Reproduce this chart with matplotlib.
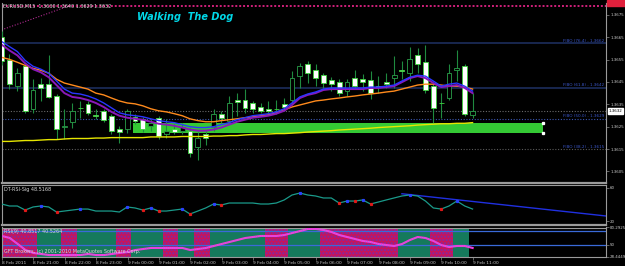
import numpy as np
import matplotlib.pyplot as plt
from matplotlib.patches import Rectangle
from matplotlib.transforms import blended_transform_factory

#   DATA (EURUSD M15, 8 Feb 20:00 -> 9 Feb 11:00)
bar_open = [1.36653, 1.36546, 1.36431, 1.36520, 1.36330, 1.36440, 1.36440, 1.36387, 1.36250, 1.36272,
            1.36334, 1.36352, 1.36303, 1.36321, 1.36299, 1.36241, 1.36241, 1.36294, 1.36285, 1.36254,
            1.36290, 1.36219, 1.36241, 1.36232, 1.36232, 1.36157, 1.36219, 1.36250, 1.36308, 1.36277,
            1.36369, 1.36369, 1.36356, 1.36338, 1.36330, 1.36330, 1.36352, 1.36369, 1.36476, 1.36529,
            1.36502, 1.36480, 1.36458, 1.36449, 1.36409, 1.36467, 1.36462, 1.36458, 1.36431, 1.36449,
            1.36467, 1.36502, 1.36489, 1.36569, 1.36538, 1.36431, 1.36356, 1.36378, 1.36502, 1.36520,
            1.36300]
bar_high = [1.36679, 1.36577, 1.36511, 1.36529, 1.36462, 1.36467, 1.36569, 1.36396, 1.36330, 1.36356,
            1.36365, 1.36365, 1.36330, 1.36330, 1.36308, 1.36254, 1.36330, 1.36308, 1.36294, 1.36285,
            1.36299, 1.36285, 1.36263, 1.36268, 1.36246, 1.36228, 1.36232, 1.36330, 1.36321, 1.36387,
            1.36400, 1.36418, 1.36365, 1.36356, 1.36365, 1.36369, 1.36378, 1.36498, 1.36533, 1.36542,
            1.36529, 1.36489, 1.36471, 1.36462, 1.36462, 1.36502, 1.36485, 1.36498, 1.36476, 1.36489,
            1.36564, 1.36542, 1.36608, 1.36600, 1.36617, 1.36445, 1.36400, 1.36529, 1.36591, 1.36529,
            1.36400]
bar_low = [1.36524, 1.36418, 1.36409, 1.36312, 1.36312, 1.36365, 1.36378, 1.36197, 1.36197, 1.36246,
           1.36290, 1.36303, 1.36285, 1.36272, 1.36219, 1.36179, 1.36223, 1.36263, 1.36228, 1.36232,
           1.36197, 1.36201, 1.36215, 1.36219, 1.36113, 1.36100, 1.36166, 1.36232, 1.36268, 1.36268,
           1.36299, 1.36312, 1.36312, 1.36312, 1.36308, 1.36308, 1.36321, 1.36352, 1.36423, 1.36445,
           1.36431, 1.36423, 1.36409, 1.36387, 1.36387, 1.36418, 1.36409, 1.36374, 1.36400, 1.36423,
           1.36423, 1.36462, 1.36454, 1.36489, 1.36400, 1.36268, 1.36290, 1.36369, 1.36454, 1.36299,
           1.36290]
bar_close = [1.36542, 1.36440, 1.36489, 1.36321, 1.36414, 1.36423, 1.36383, 1.36241, 1.36254, 1.36321,
             1.36332, 1.36312, 1.36299, 1.36281, 1.36232, 1.36228, 1.36321, 1.36277, 1.36241, 1.36268,
             1.36210, 1.36232, 1.36228, 1.36250, 1.36130, 1.36201, 1.36201, 1.36308, 1.36290, 1.36356,
             1.36361, 1.36334, 1.36330, 1.36321, 1.36321, 1.36328, 1.36338, 1.36467, 1.36520, 1.36489,
             1.36467, 1.36445, 1.36440, 1.36400, 1.36449, 1.36431, 1.36449, 1.36400, 1.36429, 1.36440,
             1.36480, 1.36500, 1.36551, 1.36529, 1.36414, 1.36334, 1.36354, 1.36489, 1.36511, 1.36308,
             1.36320]

#   MOVING AVERAGES
ma_orange = [1.36560, 1.36551, 1.36538, 1.36524, 1.36511, 1.36502, 1.36489, 1.36462, 1.36445, 1.36436,
             1.36427, 1.36418, 1.36400, 1.36392, 1.36378, 1.36365, 1.36356, 1.36352, 1.36343, 1.36330,
             1.36321, 1.36316, 1.36308, 1.36299, 1.36285, 1.36277, 1.36272, 1.36272, 1.36277, 1.36281,
             1.36285, 1.36290, 1.36294, 1.36299, 1.36303, 1.36312, 1.36325, 1.36338, 1.36347, 1.36356,
             1.36365, 1.36369, 1.36374, 1.36378, 1.36383, 1.36387, 1.36392, 1.36396, 1.36400, 1.36405,
             1.36409, 1.36418, 1.36427, 1.36436, 1.36440, 1.36440, 1.36436, 1.36431, 1.36431, 1.36427,
             1.36418]
ma_blue = [1.36631, 1.36608, 1.36586, 1.36546, 1.36520, 1.36507, 1.36489, 1.36454, 1.36418, 1.36400,
           1.36396, 1.36387, 1.36374, 1.36356, 1.36334, 1.36312, 1.36303, 1.36299, 1.36294, 1.36285,
           1.36277, 1.36272, 1.36268, 1.36259, 1.36250, 1.36246, 1.36246, 1.36250, 1.36259, 1.36268,
           1.36281, 1.36290, 1.36299, 1.36303, 1.36308, 1.36316, 1.36330, 1.36356, 1.36383, 1.36396,
           1.36405, 1.36418, 1.36423, 1.36423, 1.36423, 1.36423, 1.36423, 1.36427, 1.36427, 1.36431,
           1.36436, 1.36454, 1.36471, 1.36480, 1.36476, 1.36454, 1.36431, 1.36440, 1.36445, 1.36431,
           1.36409]
ma_purple = [1.36617, 1.36591, 1.36569, 1.36533, 1.36507, 1.36493, 1.36471, 1.36436, 1.36400, 1.36383,
             1.36378, 1.36369, 1.36356, 1.36338, 1.36316, 1.36299, 1.36290, 1.36285, 1.36281, 1.36272,
             1.36263, 1.36259, 1.36254, 1.36246, 1.36237, 1.36232, 1.36232, 1.36237, 1.36246, 1.36259,
             1.36272, 1.36281, 1.36290, 1.36294, 1.36299, 1.36308, 1.36321, 1.36347, 1.36378, 1.36392,
             1.36400, 1.36414, 1.36418, 1.36418, 1.36418, 1.36418, 1.36418, 1.36423, 1.36423, 1.36427,
             1.36431, 1.36449, 1.36467, 1.36476, 1.36467, 1.36445, 1.36427, 1.36431, 1.36436, 1.36423,
             1.36400]
ma_yellow = [1.36184, 1.36184, 1.36186, 1.36188, 1.36188, 1.36190, 1.36192, 1.36192, 1.36195, 1.36197,
             1.36197, 1.36197, 1.36199, 1.36199, 1.36201, 1.36201, 1.36201, 1.36201, 1.36201, 1.36204,
             1.36204, 1.36204, 1.36204, 1.36206, 1.36206, 1.36206, 1.36206, 1.36208, 1.36208, 1.36210,
             1.36210, 1.36213, 1.36215, 1.36215, 1.36217, 1.36219, 1.36219, 1.36221, 1.36223, 1.36226,
             1.36228, 1.36230, 1.36232, 1.36235, 1.36237, 1.36239, 1.36241, 1.36243, 1.36246, 1.36248,
             1.36250, 1.36252, 1.36254, 1.36257, 1.36259, 1.36261, 1.36263, 1.36263, 1.36265, 1.36265,
             1.36268]

#   OBJECTS
fibo_levels = ['76.4', '61.8', '50.0', '38.2']
fibo_prices = [1.36622, 1.36423, 1.36285, 1.36149]
fibo_texts = ['1.3662', '1.3642', '1.3629', '1.3615']
zone_t = [16.7, 69.0]
zone_p = [1.36223, 1.36268]
pink_t = [0, 9]
pink_p = [1.36683, 1.36795]
top_line = 1.36790
price_ticks = [1.3605, 1.3615, 1.3625, 1.3635, 1.3645, 1.3655, 1.3665, 1.3675]

#   DT-RSI
dt_rsi = [40.6, 38.2, 38.2, 33.3, 37.0, 38.2, 37.0, 30.9, 32.1, 33.3,
          34.5, 34.5, 32.1, 32.1, 32.1, 30.9, 37.0, 35.8, 33.3, 35.8,
          32.1, 32.1, 33.3, 34.5, 28.5, 32.1, 35.8, 40.6, 39.4, 41.8,
          41.8, 41.8, 41.8, 40.6, 40.6, 41.8, 45.5, 51.5, 53.9, 51.5,
          50.3, 47.9, 47.9, 41.8, 44.2, 44.2, 45.5, 40.6, 43.0, 45.5,
          47.9, 50.3, 51.5, 50.3, 44.2, 35.8, 34.5, 38.2, 44.2, 38.2, 34.5]
dt_red = [3, 7, 18, 20, 24, 28, 43, 45, 47, 56]
dt_blue = [5, 10, 16, 19, 23, 27, 38, 44, 46, 52, 58]
dt_trend_t = [51, 77]
dt_trend_v = [53.0, 26.1]

#   RSI
rsi = [65.4, 61.8, 51.3, 40.7, 35.5, 33.7, 31.9, 31.9, 31.9, 31.9,
       31.9, 33.7, 31.9, 31.9, 33.7, 35.5, 37.2, 40.7, 42.5, 44.3,
       44.3, 44.3, 44.3, 44.3, 40.7, 42.5, 44.3, 47.8, 51.3, 54.8,
       58.3, 61.8, 63.6, 65.4, 65.4, 65.4, 67.1, 70.6, 74.1, 77.7,
       77.7, 75.9, 72.4, 67.1, 63.6, 60.1, 56.6, 54.8, 51.3, 49.5,
       47.8, 51.3, 58.3, 63.6, 61.8, 56.6, 49.5, 46.0, 47.8, 47.8, 44.3]
rsi_state = [1, 1, 1, 1, 1, 0, 0, 0, 1, 1,
             0, 0, 0, 0, 0, 1, 1, 0, 0, 0,
             0, 1, 1, 0, 0, 1, 1, 0, 0, 0,
             0, 0, 0, 0, 1, 1, 1, 0, 0, 0,
             0, 1, 1, 1, 1, 1, 1, 1, 1, 1,
             1, 0, 0, 0, 0, 1, 1, 1, 0, 0, -1]
rsi_levels = [75, 50]

time_idx = list(range(0, 61, 4))
time_labels = ['8 Feb 2011', '8 Feb 21:00', '8 Feb 22:00', '8 Feb 23:00', '9 Feb 00:00',
               '9 Feb 01:00', '9 Feb 02:00', '9 Feb 03:00', '9 Feb 04:00', '9 Feb 05:00',
               '9 Feb 06:00', '9 Feb 07:00', '9 Feb 08:00', '9 Feb 09:00', '9 Feb 10:00',
               '9 Feb 11:00']

#   LAYOUT
W, H = 625, 266


def px(x0, y0, x1, y1):
    return [x0 / W, 1 - y1 / H, (x1 - x0) / W, (y1 - y0) / H]


fig = plt.figure(figsize=(W / 100, H / 100), dpi=100, facecolor='black')
ax = fig.add_axes(px(2, 3, 606, 183))
ax2 = fig.add_axes(px(2, 185, 606, 225))
ax3 = fig.add_axes(px(2, 227.5, 606, 257))

idx = np.arange(len(bar_open))
o = np.array(bar_open)
c = np.array(bar_close)

for a in (ax, ax2, ax3):
    a.set_facecolor('black')
    a.set_xlim(0.05, 77.0)
    for s in a.spines.values():
        s.set_color('#9a9a9a')
        s.set_linewidth(0.8)
    a.yaxis.tick_right()
    a.tick_params(axis='y', colors='#8a8a8a', labelcolor='#c8c8c8', labelsize=2.9,
                  length=2, width=0.5, pad=1)
    a.tick_params(axis='x', colors='#8a8a8a', labelcolor='#c8c8c8', labelsize=3.2,
                  length=2, width=0.5, pad=1)
    a.set_xticks([])
ax.spines['bottom'].set_linewidth(1.6)
ax2.spines['bottom'].set_linewidth(1.6)
ax.spines['top'].set_visible(False)

#   MAIN CHART
ax.set_ylim(1.35998, 1.36803)
ax.set_yticks(price_ticks)
ax.set_yticklabels([f'{p:.4f}' for p in price_ticks])

ax.axhline(top_line, color='#d0207a', lw=1.4, ls=(0, (1, 1)), zorder=1)
ax.plot(pink_t, pink_p, color='#b02a90', lw=0.8, ls=(0, (1, 1.5)), zorder=1)

fibo_style = [('#1c2d5c', '-', 1.2), ('#1c2d5c', '-', 1.2), ('#3a55b0', (0, (1, 1.5)), 0.8),
              ('#5a5a5a', (0, (1, 1.5)), 0.8)]
tr = blended_transform_factory(ax.transAxes, ax.transData)
for p, lv, tx, (col, ls, lw) in zip(fibo_prices, fibo_levels, fibo_texts, fibo_style):
    ax.axhline(p, color=col, ls=ls, lw=lw, zorder=1)
    ax.text(0.997, p + 0.00003, f'FIBO ({lv}) - {tx}', transform=tr, ha='right', va='bottom',
            fontsize=3.0, color='#3a56c8', zorder=6)
ax.axhline(bar_close[-1], color='#6a6a6a', ls=(0, (1, 1.5)), lw=0.8, zorder=1)

ax.fill_between(zone_t, zone_p[0], zone_p[1], color='#34c934', lw=0, zorder=2)
ax.plot([zone_t[1], zone_t[1]], zone_p, 's', color='white', ms=1.4, zorder=2)

# velas: branca = baixa, preta = alta
ax.vlines(idx, bar_low, bar_high, color='#1f8a3f', lw=0.8, zorder=3)
bull = c >= o
body = np.maximum(np.abs(c - o), 0.000006)
ax.bar(idx[~bull], body[~bull], bottom=np.minimum(o, c)[~bull], width=0.62,
       color='white', edgecolor='#3cd23c', lw=0.6, zorder=4)
ax.bar(idx[bull], body[bull], bottom=np.minimum(o, c)[bull], width=0.62,
       color='black', edgecolor='#2aa04a', lw=0.6, zorder=4)

ax.plot(idx, ma_yellow, color='#e6e600', lw=1.0, zorder=5)
ax.plot(idx, ma_orange, color='#ff8a1c', lw=1.0, zorder=5)
ax.plot(idx, ma_purple, color='#8a18b8', lw=1.4, zorder=5)
ax.plot(idx, ma_blue, color='#2a36ff', lw=1.0, zorder=6)

ax.text(1.004, bar_close[-1], f'{bar_close[-1]:.4f}', transform=tr, ha='left', va='center',
        fontsize=2.9, color='black', clip_on=False, zorder=7,
        bbox=dict(boxstyle='square,pad=0.15', fc='white', ec='white'))
fig.patches.append(Rectangle((607 / W, 1 - 6 / H), 18 / W, 6 / H, color='#e0203c',
                             transform=fig.transFigure, zorder=7))

fig.text(3 / W, 1 - 6 / H, 'EURUSD,M15  1.3630 1.3640 1.3629 1.3632', fontsize=3.5,
         color='#d8d8d8', ha='left', va='center')
fig.text(137 / W, 1 - 17 / H, 'Walking  The Dog', fontsize=7, color='#00d8e8',
         fontweight='bold', fontstyle='italic', ha='left', va='center')

#   DT-RSI
ax2.set_ylim(15.2, 63.6)
ax2.set_yticks([20, 60])
ax2.set_yticklabels(['20', '60'])
ax2.plot(idx, dt_rsi, color='#1a9a8a', lw=0.9, zorder=3)
ax2.plot(dt_red, [dt_rsi[i] for i in dt_red], 's', color='#e01818', ms=1.3, zorder=4)
ax2.plot(dt_blue, [dt_rsi[i] for i in dt_blue], 's', color='#2a40ff', ms=1.3, zorder=4)
ax2.plot(dt_trend_t, dt_trend_v, color='#2030e0', lw=1.0, zorder=2)
ax2.text(0.003, 0.9, 'DT-RSI-Sig 48.5168', transform=ax2.transAxes, fontsize=3.5,
         color='#d8d8d8', ha='left', va='center')

#   RSI
lo, hi = 28.4449, 80.2925
ax3.set_ylim(lo, hi)
ax3.set_yticks([lo, 50, hi])
ax3.set_yticklabels([f'{lo:.4f}', '50', f'{hi:.4f}'])
st = np.array(rsi_state)
ax3.bar(idx[st == 0], hi - lo, bottom=lo, width=1.0, color='#157a5c', lw=0, zorder=1)
ax3.bar(idx[st == 1], hi - lo, bottom=lo, width=1.0, color='#c8145a', edgecolor='#7a2ca8',
        hatch='.....', lw=0, zorder=1)
for lv in rsi_levels:
    ax3.axhline(lv, color='#3a6ad8', lw=0.9, zorder=2)
ax3.plot(idx, rsi, color='#ff30e0', lw=1.5, zorder=3)
ax3.plot(idx, rsi, color='#40c8c0', lw=0.5, ls=(0, (1, 2)), zorder=4)
ax3.text(0.003, 0.86, 'RSI(9) 40.8517 40.5264', transform=ax3.transAxes, fontsize=3.5,
         color='#d8d8d8', ha='left', va='center', zorder=5)
ax3.text(0.003, 0.18, 'GFT Brokers, (c) 2001-2010 MetaQuotes Software Corp.',
         transform=ax3.transAxes, fontsize=3.5, color='#d8d8d8', ha='left', va='center', zorder=5)

ax3.set_xticks(time_idx)
ax3.set_xticklabels(time_labels, ha='left')

fig.savefig('out.png', dpi=100, facecolor='black')
